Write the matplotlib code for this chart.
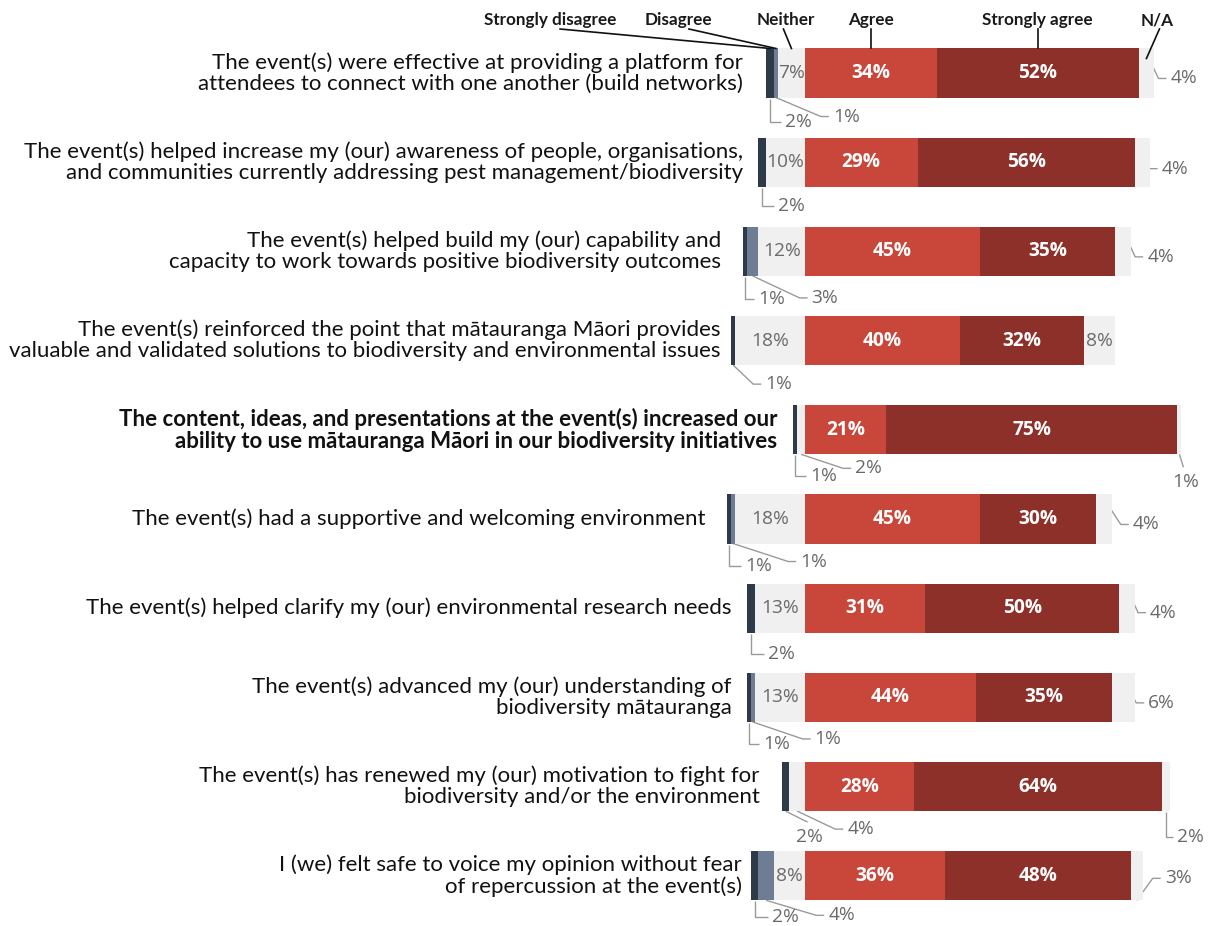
import matplotlib
matplotlib.use("Agg")
import matplotlib.pyplot as plt

# ---------------- data ----------------
categories = [
    "The event(s) were effective at providing a platform for\nattendees to connect with one another (build networks)",
    "The event(s) helped increase my (our) awareness of people, organisations,\nand communities currently addressing pest management/biodiversity",
    "The event(s) helped build my (our) capability and\ncapacity to work towards positive biodiversity outcomes",
    "The event(s) reinforced the point that mātauranga Māori provides\nvaluable and validated solutions to biodiversity and environmental issues",
    "The content, ideas, and presentations at the event(s) increased our\nability to use mātauranga Māori in our biodiversity initiatives",
    "The event(s) had a supportive and welcoming environment",
    "The event(s) helped clarify my (our) environmental research needs",
    "The event(s) advanced my (our) understanding of\nbiodiversity mātauranga",
    "The event(s) has renewed my (our) motivation to fight for\nbiodiversity and/or the environment",
    "I (we) felt safe to voice my opinion without fear\nof repercussion at the event(s)",
]
bold_rows = [4]
series_names = ["Strongly disagree", "Disagree", "Neither", "Agree", "Strongly agree", "N/A"]
strongly_disagree = [2, 2, 1, 1, 1, 1, 2, 1, 2, 2]
disagree = [1, 0, 3, 0, 0, 1, 0, 1, 0, 4]
neither = [7, 10, 12, 18, 2, 18, 13, 13, 4, 8]
agree = [34, 29, 45, 40, 21, 45, 31, 44, 28, 36]
strongly_agree = [52, 56, 35, 32, 75, 30, 50, 35, 64, 48]
not_applicable = [4, 4, 4, 8, 1, 4, 4, 6, 2, 3]

# ---------------- style / layout ----------------
C_SD = "#2f3a48"
C_D = "#6e7d94"
C_N = "#f0f0f0"
C_A = "#c8473a"
C_SA = "#8d3029"
C_NA = "#f0f0f0"
C_TXT = "#6a6a6a"
C_LEAD = "#9a9a9a"

W, H, DPI = 1210, 926, 100
PXU = 3.88        # pixels per percent
X0 = 805          # pixel x of zero line
Y0 = 73           # pixel y of first row centre
STEP = 89.2       # pixels between rows
BAR_H = 0.55

def px2x(px):
    return (px - X0) / PXU

def py2y(py):
    return (py - Y0) / STEP

def dxd(d):
    return d / PXU

def dyd(d):
    return d / STEP

fig = plt.figure(figsize=(W / DPI, H / DPI), dpi=DPI)
ax = fig.add_axes([0, 0, 1, 1])
ax.set_xlim(px2x(0), px2x(W))
ax.set_ylim(py2y(H), py2y(0))
ax.axis("off")

n = len(categories)
rows = list(range(n))

# segment geometry from data
seg = {}
for i in rows:
    nl = neither[i]
    dl = disagree[i]
    sl = strongly_disagree[i]
    a = agree[i]
    sa = strongly_agree[i]
    na = not_applicable[i]
    seg[i] = {
        "N": (-nl, nl),
        "D": (-nl - dl, dl),
        "SD": (-nl - dl - sl, sl),
        "A": (0, a),
        "SA": (a, sa),
        "NA": (a + sa, na),
    }

colors = {"SD": C_SD, "D": C_D, "N": C_N, "A": C_A, "SA": C_SA, "NA": C_NA}
for key in ["N", "D", "SD", "A", "SA", "NA"]:
    lefts = [seg[i][key][0] for i in rows]
    widths = [seg[i][key][1] for i in rows]
    ax.barh(rows, widths, left=lefts, height=BAR_H, color=colors[key],
            edgecolor="none", zorder=2)

PCT_FONT = dict(family=["Open Sans", "DejaVu Sans"], fontsize=13.8)
CAT_FAMILY = ["Lato", "DejaVu Sans"]

# inside labels
for i in rows:
    for key in ["A", "SA"]:
        l, w = seg[i][key]
        ax.text(l + w / 2, i, f"{w}%", ha="center", va="center", color="white",
                fontweight="bold", zorder=4, **PCT_FONT)
    l, w = seg[i]["N"]
    if w >= 7:
        ax.text(l + w / 2, i, f"{w}%", ha="center", va="center", color=C_TXT,
                zorder=4, **PCT_FONT)
    l, w = seg[i]["NA"]
    if w >= 8:
        ax.text(l + w / 2, i, f"{w}%", ha="center", va="center", color=C_TXT,
                zorder=4, **PCT_FONT)

# category labels (right edge gap to bar's left end, in px)
label_gap = [23, 15, 22, 11, 16, 22, 15, 15, 22, 9]
for i in rows:
    left = seg[i]["SD"][0]
    ax.text(left - dxd(label_gap[i]), i, categories[i], ha="right", va="center",
            fontsize=16, family=CAT_FAMILY,
            fontweight="bold" if i in bold_rows else "normal",
            color="#111111", linespacing=1.07)

# outside callouts: (row, segment, side, dx_px, dy_px, kind)
callouts = [
    (0, "SD", "bottom", 15, 24, "elbow"),
    (0, "D", "bottom", 57, 19, "diag"),
    (0, "NA", "top", 24, 26, "diag"),
    (1, "SD", "bottom", 16, 19, "elbow"),
    (1, "NA", "top", 19, 27, "diag"),
    (2, "SD", "bottom", 13, 23, "elbow"),
    (2, "D", "bottom", 59, 22, "diag"),
    (2, "NA", "top", 24, 26, "diag"),
    (3, "SD", "bottom", 32, 19, "diag"),
    (4, "SD", "bottom", 15, 22, "elbow"),
    (4, "N", "bottom", 54, 14, "diag"),
    (4, "NA", "bottom", 6, 28, "below"),
    (5, "SD", "bottom", 16, 22, "elbow"),
    (5, "D", "bottom", 67, 18, "diag"),
    (5, "NA", "top", 29, 26, "diag"),
    (6, "SD", "bottom", 17, 21, "elbow"),
    (6, "NA", "top", 23, 25, "diag"),
    (7, "SD", "bottom", 14, 22, "elbow"),
    (7, "D", "bottom", 62, 17, "diag"),
    (7, "NA", "top", 25, 26, "diag"),
    (8, "SD", "bottom", 24, 26, "below"),
    (8, "N", "bottom", 50, 18, "diag"),
    (8, "NA", "bottom", 11, 26, "elbow"),
    (9, "SD", "bottom", 17, 17, "elbow"),
    (9, "D", "bottom", 62, 15, "diag"),
    (9, "NA", "bottom", 28, -22, "diag"),
]
GAP = 4
HLEN = 8
for (i, key, side, dx, dy, kind) in callouts:
    l, w = seg[i][key]
    ax_x = l + w / 2
    ax_y = i + (BAR_H / 2 if side == "bottom" else -BAR_H / 2)
    if side == "top":
        ax_y += dyd(4)
    val = f"{w}%"
    tx = ax_x + dxd(dx)
    ty = ax_y + dyd(dy)
    if kind == "elbow":
        xs = [ax_x, ax_x, tx - dxd(GAP)]
        ys = [ax_y + dyd(1), ty, ty]
        ax.text(tx, ty, val, ha="left", va="center", color=C_TXT, **PCT_FONT)
    elif kind == "diag":
        xs = [ax_x, tx - dxd(GAP + HLEN), tx - dxd(GAP)]
        ys = [ax_y, ty, ty]
        ax.text(tx, ty, val, ha="left", va="center", color=C_TXT, **PCT_FONT)
    else:  # below
        xs = [ax_x, tx - dxd(2)]
        ys = [ax_y, ty - dyd(15)]
        ax.text(tx, ty, val, ha="center", va="center", color=C_TXT, **PCT_FONT)
    ax.plot(xs, ys, color=C_LEAD, lw=1, zorder=1, solid_capstyle="butt")

# header (legend) labels over the first row
header_keys = ["SD", "D", "N", "A", "SA", "NA"]
header_dx = [-220, -97, -6, 0, 0, 11]       # label centre relative to segment centre (px)
header_line_dx = [10, 10, -2, 0, 0, 2]      # line start relative to label centre (px)
HEAD_Y = 20
for name, key, hdx, ldx in zip(series_names, header_keys, header_dx, header_line_dx):
    l, w = seg[0][key]
    cx = l + w / 2
    lx = cx + dxd(hdx)
    ax.text(lx, py2y(HEAD_Y), name, ha="center", va="center", fontsize=12.3,
            fontweight="bold", family=CAT_FAMILY, color="#1a1a1a")
    end_y = -BAR_H / 2 + (dyd(10) if key == "NA" else 0)
    ax.plot([lx + dxd(ldx), cx], [py2y(HEAD_Y + 9), end_y], color="#111111",
            lw=1.2, zorder=5)

fig.savefig("out.png", dpi=DPI)
